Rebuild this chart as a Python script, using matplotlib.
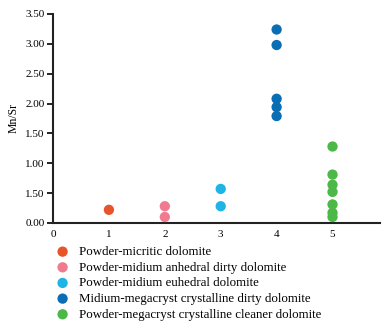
import matplotlib
matplotlib.use('Agg')
import matplotlib.pyplot as plt

plt.rcParams['font.family'] = ['Liberation Serif', 'DejaVu Serif']

# 各グループの値
groups = ['Powder-micritic dolomite',
          'Powder-midium anhedral dirty dolomite',
          'Powder-midium euhedral dolomite',
          'Midium-megacryst crystalline dirty dolomite',
          'Powder-megacryst crystalline cleaner dolomite']
group_x = [1, 2, 3, 4, 5]
g1 = [0.22]
g2 = [0.28, 0.10]
g3 = [0.57, 0.28]
g4 = [3.24, 2.98, 2.08, 1.94, 1.79]
g5 = [1.28, 0.81, 0.64, 0.52, 0.31, 0.17, 0.10]
values = [g1, g2, g3, g4, g5]
colors = ['#E8542A', '#F07A90', '#1EB4E6', '#0A6EB4', '#4CB848']

yticks = [0, 0.5, 1.0, 1.5, 2.0, 2.5, 3.0, 3.5]
ytick_labels = ['0.00', '1.50', '1.00', '1.50', '2.00', '2.50', '3.00', '3.50']  # 元図のまま
xticks = [0, 1, 2, 3, 4, 5]

fig = plt.figure(figsize=(3.87, 3.25), dpi=100)
ax = fig.add_axes([0.137, 0.314, 0.845, 0.643])

for xv, vals, c, name in zip(group_x, values, colors, groups):
    ax.scatter([xv] * len(vals), vals, s=55, color=c, label=name, edgecolors='none', zorder=3)

ax.set_xlim(0, 5.85)
ax.set_ylim(0, 3.5)
ax.set_yticks(yticks)
ax.set_yticklabels(ytick_labels, fontsize=8)
ax.set_xticks(xticks)
ax.set_xticklabels([str(t) for t in xticks], fontsize=8)
ax.tick_params(axis='y', length=4, width=1.2, direction='out', pad=2)
ax.tick_params(axis='x', length=0, pad=5)
for s in ['top', 'right']:
    ax.spines[s].set_visible(False)
for s in ['left', 'bottom']:
    ax.spines[s].set_linewidth(1.5)
    ax.spines[s].set_color('#222222')
ax.set_ylabel('Mn/Sr', fontsize=8.5, labelpad=4)

fig.legend(loc='upper left', bbox_to_anchor=(0.13, 0.259), frameon=False,
           fontsize=9.3, handletextpad=0.7, labelspacing=0.28, borderaxespad=0,
           handlelength=1.1, markerscale=1.0)

fig.savefig('out.png', dpi=100)
